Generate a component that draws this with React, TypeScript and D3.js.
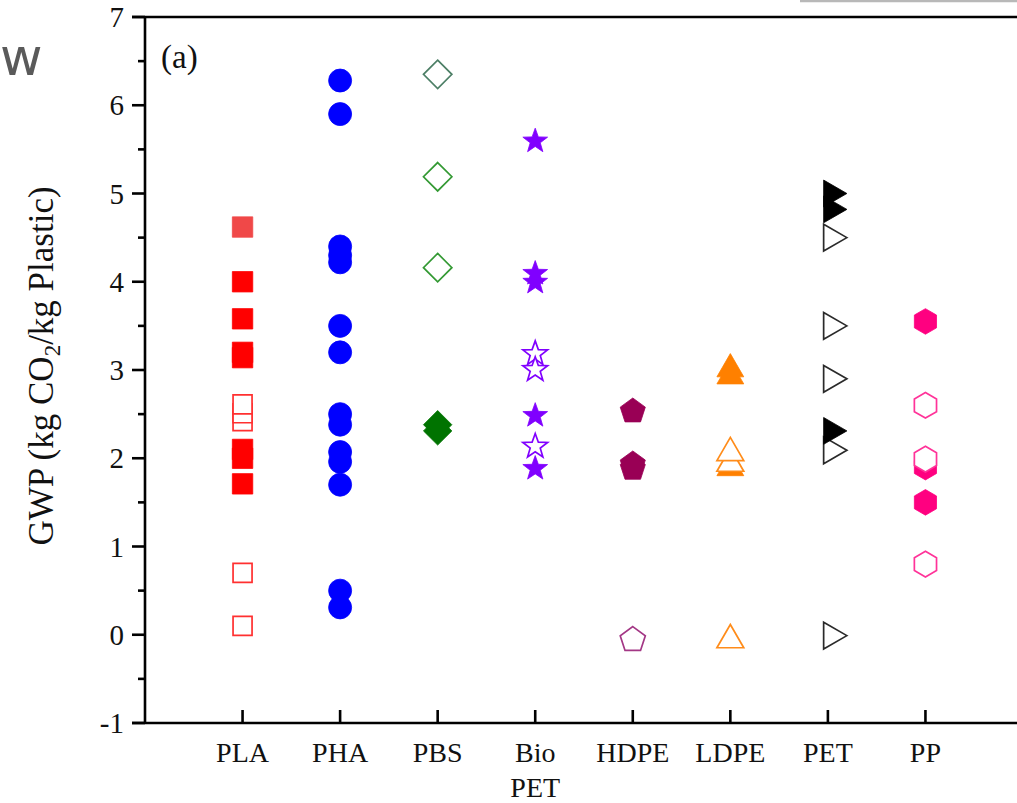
import React from 'react';
import * as d3 from 'd3';

const CATEGORIES = ['PLA', 'PHA', 'PBS', 'Bio\nPET', 'HDPE', 'LDPE', 'PET', 'PP'];
const Y_TICKS = [-1, 0, 1, 2, 3, 4, 5, 6, 7];
const Y_MINOR = [-0.5, 0.5, 1.5, 2.5, 3.5, 4.5, 5.5, 6.5];

// GWP values (kg CO2 / kg plastic)
const PLA_FILLED = [4.0, 3.58, 3.2, 3.14, 2.1, 2.0, 1.71];
const PLA_FILLED_LIGHT = [4.62];
const PLA_OPEN = [0.1, 0.7, 2.42, 2.51, 2.61];
const PHA_FILLED = [6.28, 5.9, 4.4, 4.3, 4.22, 3.5, 3.2, 2.5, 2.38, 2.07, 1.96, 1.7, 0.5, 0.31];
const PBS_OPEN_GREY = [6.35];
const PBS_OPEN = [5.19, 4.16];
const PBS_FILLED = [2.38, 2.31];
const BIOPET_FILLED = [5.61, 4.11, 4.01, 2.5, 1.9];
const BIOPET_OPEN = [3.2, 3.02, 2.15];
const HDPE_FILLED = [2.55, 1.95, 1.9];
const HDPE_OPEN = [-0.04];
const LDPE_FILLED = [3.05, 2.97, 1.93];
const LDPE_OPEN = [1.98, 2.1, -0.02];
const PET_OPEN = [4.5, 3.5, 2.9, 2.09, -0.01];
const PET_FILLED = [5.0, 4.82, 2.31];
const PP_FILLED = [3.55, 1.9, 1.5];
const PP_OPEN = [2.6, 1.99, 0.8];

type Shape = 'square' | 'circle' | 'diamond' | 'star' | 'pentagon' | 'triUp' | 'triRight' | 'hexagon';

// drawing order matters where markers overlap
const SERIES: { cat: number; values: number[]; shape: Shape; color: string; open: boolean }[] = [
  { cat: 0, values: PLA_FILLED, shape: 'square', color: '#ff0000', open: false },
  { cat: 0, values: PLA_FILLED_LIGHT, shape: 'square', color: '#f04848', open: false },
  { cat: 0, values: PLA_OPEN, shape: 'square', color: '#ff3030', open: true },
  { cat: 1, values: PHA_FILLED, shape: 'circle', color: '#0000ff', open: false },
  { cat: 2, values: PBS_OPEN_GREY, shape: 'diamond', color: '#4d7f66', open: true },
  { cat: 2, values: PBS_OPEN, shape: 'diamond', color: '#339933', open: true },
  { cat: 2, values: PBS_FILLED, shape: 'diamond', color: '#007300', open: false },
  { cat: 3, values: BIOPET_FILLED, shape: 'star', color: '#8000ff', open: false },
  { cat: 3, values: BIOPET_OPEN, shape: 'star', color: '#8000ff', open: true },
  { cat: 4, values: HDPE_FILLED, shape: 'pentagon', color: '#990055', open: false },
  { cat: 4, values: HDPE_OPEN, shape: 'pentagon', color: '#a33785', open: true },
  { cat: 5, values: LDPE_FILLED, shape: 'triUp', color: '#ff8000', open: false },
  { cat: 5, values: LDPE_OPEN, shape: 'triUp', color: '#ff8c1a', open: true },
  { cat: 6, values: PET_OPEN, shape: 'triRight', color: '#2a2a2a', open: true },
  { cat: 6, values: PET_FILLED, shape: 'triRight', color: '#000000', open: false },
  { cat: 7, values: PP_FILLED, shape: 'hexagon', color: '#ff0080', open: false },
  { cat: 7, values: PP_OPEN, shape: 'hexagon', color: '#ff3399', open: true },
];

const W = 1017;
const H = 803;
const FONT = '"Liberation Serif", "Times New Roman", serif';

const x = d3.scaleLinear().domain([0, CATEGORIES.length + 1]).range([145, 1023]);
const y = d3.scaleLinear().domain([-1, 7]).range([723, 17]);

const poly = d3.line().curve(d3.curveLinearClosed);

function regular(n: number, r: number, start: number): [number, number][] {
  return d3.range(n).map((i) => {
    const a = start + (i * 2 * Math.PI) / n;
    return [r * Math.cos(a), r * Math.sin(a)] as [number, number];
  });
}

function markerPath(shape: Shape, open: boolean): string {
  switch (shape) {
    case 'square': {
      const h = open ? 9.5 : 10.2;
      return poly([[-h, -h], [h, -h], [h, h], [-h, h]]) as string;
    }
    case 'circle':
      return d3.symbol(d3.symbolCircle, Math.PI * 11.5 * 11.5)() as string;
    case 'diamond': {
      const r = 14.2;
      return poly([[0, -r], [r, 0], [0, r], [-r, 0]]) as string;
    }
    case 'star': {
      const pts: [number, number][] = d3.range(10).map((i) => {
        const a = -Math.PI / 2 + (i * Math.PI) / 5;
        const r = i % 2 === 0 ? 13 : 5.3;
        return [r * Math.cos(a), r * Math.sin(a) + 1.5] as [number, number];
      });
      return poly(pts) as string;
    }
    case 'pentagon':
      return poly(regular(5, 13.2, -Math.PI / 2).map(([a, b]) => [a, b + 1.5] as [number, number])) as string;
    case 'triUp':
      return poly(regular(3, 15.5, -Math.PI / 2).map(([a, b]) => [a, b + 3.5] as [number, number])) as string;
    case 'triRight':
      return poly(regular(3, 15.5, 0).map(([a, b]) => [a + 3.5, b] as [number, number])) as string;
    case 'hexagon':
      return poly(regular(6, 12.8, -Math.PI / 2)) as string;
  }
}

export default function App() {
  const axisW = 2.6;
  return (
    <svg
      width={W}
      height={H}
      viewBox={`0 0 ${W} ${H}`}
      style={{ position: 'absolute', left: 0, top: 0, background: '#fff', fontFamily: FONT }}
    >
      <rect width={W} height={H} fill="#fff" />
      {/* bits of the neighbouring panel that got cropped in */}
      <text x={0} y={75} fontFamily='"DejaVu Sans", sans-serif' fontSize={52} fill="#5a5a5a">w</text>
      <line x1={800} x2={W} y1={1} y2={1} stroke="#b8b8b8" strokeWidth={2.5} />

      {/* markers */}
      {SERIES.map((s, si) =>
        s.values.map((v, i) => (
          <path
            key={`${si}-${i}`}
            d={markerPath(s.shape, s.open)}
            transform={`translate(${x(s.cat + 1)},${y(v)})`}
            fill={s.open ? '#fff' : s.color}
            stroke={s.color}
            strokeWidth={s.open ? 1.7 : 0.8}
            strokeLinejoin="miter"
          />
        ))
      )}

      {/* frame */}
      <line x1={x(0)} x2={x(0)} y1={y(7)} y2={y(-1)} stroke="#000" strokeWidth={axisW} />
      <line x1={x(0) - 13} x2={W} y1={y(7)} y2={y(7)} stroke="#000" strokeWidth={axisW} />
      <line x1={x(0) - 13} x2={W} y1={y(-1)} y2={y(-1)} stroke="#000" strokeWidth={axisW} />

      {/* y ticks */}
      {Y_TICKS.map((t) => (
        <g key={t}>
          <line x1={x(0) - 13} x2={x(0)} y1={y(t)} y2={y(t)} stroke="#000" strokeWidth={axisW} />
          <text x={124} y={y(t)} dy="0.35em" textAnchor="end" fontSize={29} fill="#111">
            {t}
          </text>
        </g>
      ))}
      {Y_MINOR.map((t) => (
        <line key={t} x1={x(0) - 7} x2={x(0)} y1={y(t)} y2={y(t)} stroke="#000" strokeWidth={axisW} />
      ))}

      {/* x ticks and category labels */}
      {CATEGORIES.map((c, i) => (
        <g key={c}>
          <line x1={x(i + 1)} x2={x(i + 1)} y1={y(-1)} y2={y(-1) - 13} stroke="#000" strokeWidth={axisW} />
          {c.split('\n').map((line, li) => (
            <text key={li} x={x(i + 1)} y={762 + li * 35} textAnchor="middle" fontSize={28} fill="#111">
              {line}
            </text>
          ))}
        </g>
      ))}

      <text x={161} y={68} fontSize={33} fill="#111">(a)</text>

      <text
        transform={`translate(53,${366}) rotate(-90)`}
        textAnchor="middle"
        fontSize={35}
        fill="#111"
      >
        GWP (kg CO
        <tspan fontSize={23} dy={7}>2</tspan>
        <tspan dy={-7}>/kg Plastic)</tspan>
      </text>
    </svg>
  );
}
